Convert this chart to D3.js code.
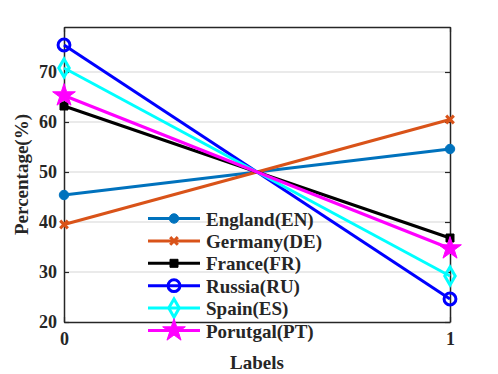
<!DOCTYPE html>
<html>
<head>
<meta charset="utf-8">
<script src="https://cdn.jsdelivr.net/npm/d3@7"></script>
<style>
  body { margin: 0; background: #fff; }
  text { font-family: "Liberation Serif", "Times New Roman", serif; font-weight: bold; fill: #262626; }
</style>
</head>
<body>
<svg id="chart" width="498" height="374"></svg>
<script>
const xCategories = [0, 1];
const yTicks = [20, 30, 40, 50, 60, 70];
const seriesNames = ['England(EN)', 'Germany(DE)', 'France(FR)', 'Russia(RU)', 'Spain(ES)', 'Porutgal(PT)'];
const england = [45.4, 54.6];
const germany = [39.5, 60.5];
const france = [63.2, 36.8];
const russia = [75.4, 24.6];
const spain = [70.8, 29.2];
const portugal = [65.3, 34.7];

const allValues = [england, germany, france, russia, spain, portugal];
const colors = ['#0072BD', '#D95319', '#000000', '#0000FF', '#00FFFF', '#FF00FF'];
const symX = d3.symbolX || d3.symbolTimes || d3.symbolCross;
const markers = [
  { type: d3.symbolCircle, size: 70, fill: true },
  { type: symX, size: 40, fill: false },
  { type: d3.symbolSquare, size: 64, fill: true },
  { type: d3.symbolCircle, size: 110, fill: false },
  { type: d3.symbolDiamond, size: 95, fill: false },
  { type: d3.symbolStar, size: 160, fill: true }
];

const svg = d3.select('#chart');
const margin = { left: 64, right: 48, top: 27, bottom: 52 };
const width = 498, height = 374;

const xScale = d3.scaleLinear().domain([0, 1]).range([margin.left, width - margin.right]);
const yScale = d3.scaleLinear().domain([20, 79]).range([height - margin.bottom, margin.top]);

// grid lines
svg.append('g')
  .selectAll('line')
  .data(yTicks.slice(1))
  .join('line')
  .attr('x1', xScale(0)).attr('x2', xScale(1))
  .attr('y1', d => yScale(d)).attr('y2', d => yScale(d))
  .attr('stroke', '#e3e3e3')
  .attr('stroke-width', 1.5);

// axes
const axLeft = svg.append('g')
  .attr('transform', `translate(${xScale(0)},0)`)
  .call(d3.axisLeft(yScale).tickValues(yTicks).tickSizeInner(-5).tickSizeOuter(0).tickPadding(7));
const axRight = svg.append('g')
  .attr('transform', `translate(${xScale(1)},0)`)
  .call(d3.axisRight(yScale).tickValues(yTicks).tickSizeInner(-5).tickSizeOuter(0).tickFormat(''));
const axBottom = svg.append('g')
  .attr('transform', `translate(0,${yScale(20)})`)
  .call(d3.axisBottom(xScale).tickValues(xCategories).tickSizeInner(-5).tickSizeOuter(0).tickPadding(10).tickFormat(d3.format('d')));
const axTop = svg.append('g')
  .attr('transform', `translate(0,${yScale(79)})`)
  .call(d3.axisTop(xScale).tickValues(xCategories).tickSizeInner(-5).tickSizeOuter(0).tickFormat(''));

[axLeft, axRight, axBottom, axTop].forEach(g => {
  g.select('.domain').attr('stroke', '#262626').attr('stroke-width', 1.5);
  g.selectAll('.tick line').attr('stroke', '#262626').attr('stroke-width', 1.2);
  g.selectAll('text').attr('font-size', 18).attr('fill', '#262626')
    .style('font-family', '"Liberation Serif", serif').style('font-weight', 'bold');
});

// lines and markers
const line = d3.line().x((d, i) => xScale(xCategories[i])).y(d => yScale(d));

allValues.forEach((vals, k) => {
  svg.append('path')
    .datum(vals)
    .attr('fill', 'none')
    .attr('stroke', colors[k])
    .attr('stroke-width', 3)
    .attr('d', line);
});

function drawMarker(sel, k) {
  const m = markers[k];
  sel.attr('d', d3.symbol().type(m.type).size(m.size))
    .attr('fill', m.fill ? colors[k] : 'none')
    .attr('stroke', colors[k])
    .attr('stroke-width', m.fill ? 1 : 3);
}

allValues.forEach((vals, k) => {
  svg.append('g')
    .selectAll('path')
    .data(vals)
    .join('path')
    .attr('transform', (d, i) => `translate(${xScale(xCategories[i])},${yScale(d)})`)
    .call(drawMarker, k);
});

// legend (no box)
const legend = svg.append('g');
seriesNames.forEach((name, k) => {
  const y = 218.5 + k * 22.4;
  legend.append('line')
    .attr('x1', 148).attr('x2', 200).attr('y1', y).attr('y2', y)
    .attr('stroke', colors[k]).attr('stroke-width', 3);
  legend.append('path')
    .attr('transform', `translate(174,${y})`)
    .call(drawMarker, k);
  legend.append('text')
    .attr('x', 206).attr('y', y + 7)
    .attr('font-size', 19)
    .attr('fill', '#000')
    .text(name);
});

// axis titles
svg.append('text')
  .attr('x', (xScale(0) + xScale(1)) / 2)
  .attr('y', 369)
  .attr('text-anchor', 'middle')
  .attr('font-size', 19)
  .text('Labels');

svg.append('text')
  .attr('transform', `translate(28,${(yScale(20) + yScale(79)) / 2}) rotate(-90)`)
  .attr('text-anchor', 'middle')
  .attr('font-size', 19)
  .text('Percentage(%)');
</script>
</body>
</html>
